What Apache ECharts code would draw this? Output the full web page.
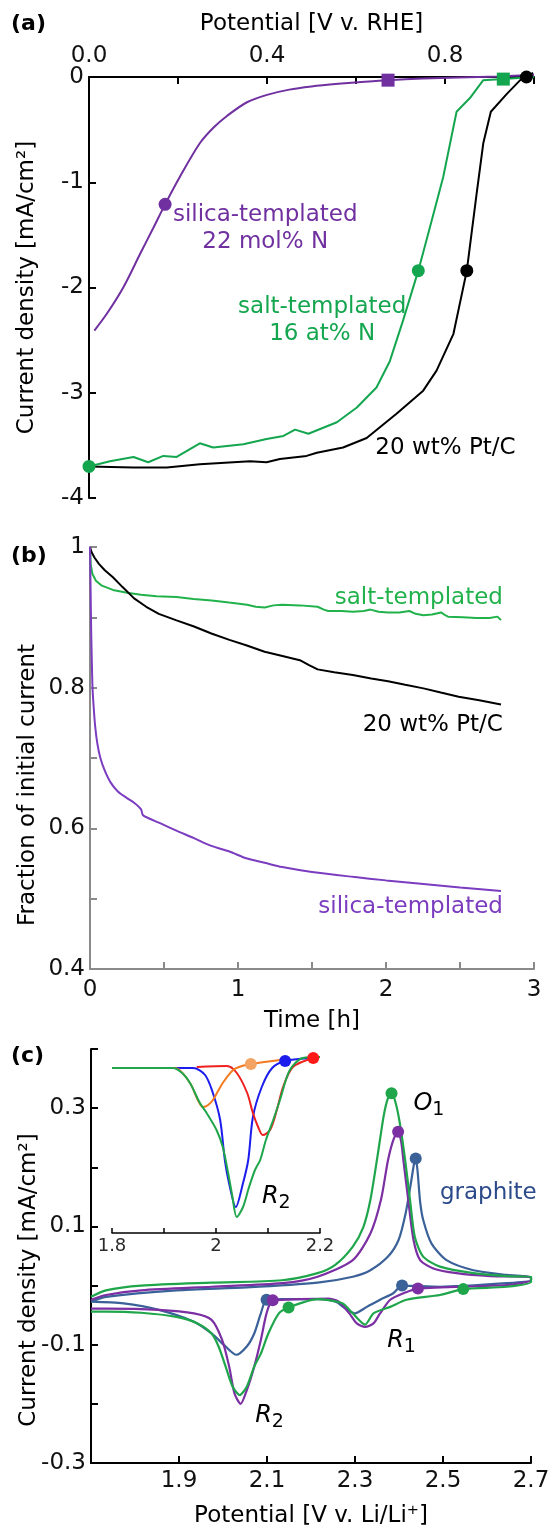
<!DOCTYPE html>
<html>
<head>
<meta charset="utf-8">
<title>ORR activity, stability and Li–S cyclic voltammetry</title>
<script src="https://cdn.jsdelivr.net/npm/echarts@6/dist/echarts.min.js"></script>
<style>
  html, body { margin: 0; padding: 0; background: #ffffff; }
  #chart { width: 554px; height: 1533px; }
</style>
</head>
<body>
<div id="chart"></div>
<script>
// ---------------- (a) linear sweeps: [E / V vs RHE, j / mA cm^-2] ----------------
const lsvSilica = [[0.012,-2.41],[0.04,-2.25],[0.077,-2.0],[0.115,-1.68],[0.145,-1.43],[0.171,-1.21],[0.204,-0.95],[0.249,-0.63],[0.28,-0.48],[0.31,-0.37],[0.355,-0.24],[0.4,-0.17],[0.45,-0.12],[0.5,-0.09],[0.56,-0.065],[0.62,-0.045],[0.672,-0.03],[0.75,-0.015],[0.83,-0.005],[0.92,0.005],[1.0,0.02]];
const lsvSalt = [[0,-3.7],[0.047,-3.65],[0.1,-3.61],[0.133,-3.66],[0.167,-3.6],[0.197,-3.61],[0.249,-3.48],[0.279,-3.52],[0.347,-3.49],[0.399,-3.44],[0.437,-3.41],[0.463,-3.35],[0.493,-3.39],[0.557,-3.28],[0.602,-3.14],[0.646,-2.95],[0.676,-2.7],[0.706,-2.31],[0.74,-1.84],[0.766,-1.43],[0.796,-0.95],[0.826,-0.33],[0.856,-0.2],[0.886,-0.03],[0.931,-0.02],[1.0,0.0]];
const lsvPtC = [[0,-3.7],[0.1,-3.71],[0.175,-3.71],[0.249,-3.68],[0.362,-3.65],[0.399,-3.66],[0.429,-3.63],[0.489,-3.6],[0.512,-3.57],[0.571,-3.52],[0.624,-3.43],[0.691,-3.2],[0.751,-2.98],[0.781,-2.79],[0.819,-2.44],[0.849,-1.84],[0.871,-1.11],[0.886,-0.63],[0.903,-0.33],[0.939,-0.16],[0.969,-0.03],[0.983,0.0],[0.998,0.04]];
// half-wave (circles) and onset (squares) points
const lsvSilicaHalf = [[0.171,-1.21]];
const lsvSilicaOnset = [[0.672,-0.03]];
const lsvSaltHalf = [[0,-3.7],[0.74,-1.84]];
const lsvSaltOnset = [[0.931,-0.02]];
const lsvPtCHalf = [[0.849,-1.84],[0.983,0.0]];

// ---------------- (b) chronoamperometry: [t / h, I / I0] ----------------
const chronoPtC = [[0,1.0],[0.01,0.993],[0.03,0.985],[0.06,0.976],[0.1,0.967],[0.155,0.957],[0.22,0.943],[0.298,0.927],[0.38,0.915],[0.465,0.905],[0.58,0.896],[0.703,0.887],[0.82,0.877],[0.942,0.868],[1.06,0.86],[1.18,0.851],[1.3,0.845],[1.418,0.839],[1.48,0.832],[1.538,0.826],[1.65,0.822],[1.776,0.818],[1.9,0.813],[2.014,0.809],[2.13,0.804],[2.253,0.799],[2.37,0.793],[2.491,0.787],[2.63,0.782],[2.777,0.776]];
const chronoSalt = [[0,1.0],[0.005,0.975],[0.016,0.962],[0.04,0.952],[0.08,0.945],[0.155,0.939],[0.25,0.935],[0.345,0.932],[0.45,0.93],[0.584,0.929],[0.7,0.926],[0.822,0.924],[0.94,0.921],[1.061,0.918],[1.12,0.915],[1.18,0.914],[1.24,0.917],[1.299,0.918],[1.42,0.917],[1.538,0.915],[1.58,0.911],[1.609,0.909],[1.7,0.909],[1.776,0.908],[1.85,0.909],[1.895,0.911],[1.95,0.908],[2.014,0.907],[2.09,0.907],[2.158,0.909],[2.2,0.905],[2.253,0.903],[2.31,0.904],[2.372,0.907],[2.4,0.903],[2.419,0.901],[2.52,0.9],[2.61,0.899],[2.7,0.899],[2.753,0.901],[2.777,0.896]];
const chronoSilica = [[0,1.0],[0.004,0.94],[0.008,0.88],[0.012,0.84],[0.017,0.8],[0.024,0.775],[0.035,0.745],[0.05,0.72],[0.07,0.7],[0.1,0.682],[0.14,0.665],[0.19,0.652],[0.25,0.643],[0.3,0.636],[0.345,0.627],[0.357,0.619],[0.4,0.614],[0.465,0.608],[0.58,0.597],[0.703,0.586],[0.82,0.575],[0.942,0.567],[1.061,0.557],[1.18,0.551],[1.299,0.545],[1.5,0.538],[1.776,0.531],[2.0,0.526],[2.253,0.521],[2.5,0.516],[2.777,0.511]];

// ---------------- (c) cyclic voltammograms: [E / V vs Li/Li+, j / mA cm^-2] ----------------
const cvSalt = [[1.7,-0.019],[1.734,-0.008],[1.814,0.0],[1.974,0.005],[2.134,0.009],[2.215,0.021],[2.255,0.035],[2.295,0.066],[2.319,0.099],[2.335,0.145],[2.351,0.218],[2.365,0.286],[2.374,0.315],[2.383,0.325],[2.392,0.31],[2.402,0.274],[2.414,0.212],[2.425,0.145],[2.436,0.082],[2.455,0.049],[2.493,0.032],[2.569,0.021],[2.645,0.016],[2.7,0.015],
  [2.7,0.006],[2.645,-0.002],[2.546,-0.006],[2.493,-0.016],[2.417,-0.024],[2.38,-0.036],[2.342,-0.047],[2.323,-0.066],[2.295,-0.047],[2.271,-0.03],[2.215,-0.023],[2.149,-0.037],[2.127,-0.047],[2.103,-0.081],[2.086,-0.115],[2.071,-0.137],[2.054,-0.171],[2.038,-0.185],[2.022,-0.171],[2.006,-0.137],[1.99,-0.103],[1.974,-0.081],[1.942,-0.064],[1.894,-0.053],[1.814,-0.046],[1.734,-0.044],[1.7,-0.044]];
const cvSilica = [[1.7,-0.024],[1.734,-0.016],[1.814,-0.008],[1.974,-0.002],[2.135,0.004],[2.215,0.015],[2.295,0.043],[2.335,0.088],[2.359,0.145],[2.375,0.212],[2.388,0.248],[2.398,0.26],[2.405,0.243],[2.41,0.212],[2.421,0.145],[2.433,0.077],[2.448,0.043],[2.478,0.029],[2.531,0.021],[2.607,0.016],[2.7,0.014],
  [2.7,0.009],[2.645,0.001],[2.443,-0.005],[2.41,-0.013],[2.38,-0.024],[2.357,-0.047],[2.342,-0.064],[2.323,-0.07],[2.304,-0.064],[2.287,-0.047],[2.263,-0.027],[2.239,-0.022],[2.175,-0.023],[2.113,-0.025],[2.099,-0.047],[2.086,-0.092],[2.071,-0.137],[2.054,-0.177],[2.04,-0.2],[2.026,-0.182],[2.014,-0.137],[1.998,-0.092],[1.974,-0.058],[1.934,-0.047],[1.854,-0.041],[1.734,-0.039],[1.7,-0.039]];
const cvGraphite = [[1.7,-0.027],[1.734,-0.019],[1.894,-0.008],[2.054,-0.003],[2.215,0.005],[2.295,0.015],[2.335,0.026],[2.375,0.049],[2.399,0.077],[2.415,0.122],[2.427,0.173],[2.434,0.205],[2.438,0.215],[2.442,0.195],[2.448,0.142],[2.455,0.111],[2.474,0.071],[2.508,0.043],[2.569,0.026],[2.645,0.018],[2.7,0.014],
  [2.7,0.009],[2.645,0.004],[2.493,-0.002],[2.407,0.0],[2.387,-0.013],[2.357,-0.024],[2.327,-0.036],[2.299,-0.047],[2.279,-0.039],[2.255,-0.027],[2.215,-0.023],[2.135,-0.023],[2.099,-0.024],[2.086,-0.047],[2.071,-0.081],[2.054,-0.103],[2.03,-0.117],[2.006,-0.103],[1.974,-0.081],[1.934,-0.061],[1.854,-0.041],[1.774,-0.03],[1.7,-0.027]];
const cvSaltDots = [[2.383,0.325],[2.149,-0.037],[2.546,-0.006]];
const cvSilicaDots = [[2.398,0.26],[2.113,-0.025],[2.443,-0.005]];
const cvGraphiteDots = [[2.438,0.215],[2.099,-0.024],[2.407,0.0]];

// inset: R2 reduction peak and its fitted components (normalised current)
const r2Measured = [[1.8,0],[1.917,0],[1.935,-0.05],[1.95,-0.15],[1.969,-0.35],[1.982,-0.45],[2.001,-0.62],[2.013,-0.79],[2.023,-1.04],[2.031,-1.27],[2.04,-1.49],[2.052,-1.39],[2.063,-1.2],[2.075,-1.02],[2.085,-0.92],[2.096,-0.72],[2.11,-0.52],[2.123,-0.32],[2.142,-0.02],[2.167,0.1],[2.2,0.11]];
const r2PeakA = [[1.8,0],[1.921,0],[1.95,-0.15],[1.965,-0.32],[1.975,-0.39],[1.985,-0.37],[1.994,-0.32],[2.013,-0.15],[2.033,-0.02],[2.05,0.02],[2.067,0.04],[2.123,0.08]];
const r2PeakB = [[1.8,0],[1.956,0],[1.979,-0.07],[1.994,-0.25],[2.008,-0.52],[2.017,-0.92],[2.025,-1.15],[2.038,-1.39],[2.052,-1.15],[2.062,-0.92],[2.071,-0.49],[2.088,-0.19],[2.108,0.0],[2.133,0.07],[2.187,0.1]];
const r2PeakC = [[1.963,0.01],[2.021,0.02],[2.04,-0.05],[2.06,-0.25],[2.071,-0.45],[2.081,-0.59],[2.09,-0.67],[2.104,-0.62],[2.117,-0.42],[2.129,-0.19],[2.148,0.01],[2.187,0.1]];
const r2PeakADot = [[2.067,0.04]];
const r2PeakBDot = [[2.133,0.07]];
const r2PeakCDot = [[2.187,0.1]];

// ---------------- tick labels ----------------
const rheTickVals = [0, 0.4, 0.8], rheTickText = ['0.0', '0.4', '0.8'];
const jTickVals = [0, -1, -2, -3, -4], jTickText = ['0', '-1', '-2', '-3', '-4'];
const timeTickVals = [0, 1, 2, 3], timeTickText = ['0', '1', '2', '3'];
const fracTickVals = [0.4, 0.6, 0.8, 1], fracTickText = ['0.4', '0.6', '0.8', '1'];
const liTickVals = [1.9, 2.1, 2.3, 2.5, 2.7], liTickText = ['1.9', '2.1', '2.3', '2.5', '2.7'];
const cvTickVals = [0.3, 0.1, -0.1, -0.3], cvTickText = ['0.3', '0.1', '-0.1', '-0.3'];
const insetTickVals = [1.8, 2.0, 2.2], insetTickText = ['1.8', '2', '2.2'];

// ---------------- styling ----------------
const FONT = 'DejaVu Sans';
const INK = '#000000';
const C = {
  purpleA: '#7030a0', greenA: '#14a64f',
  purpleB: '#7b3cc0', greenB: '#22b24c',
  purpleC: '#7b2fa3', greenC: '#1fa64b', blueC: '#3a6198', graphiteText: '#2b4a8a',
  insetGreen: '#1fa64b', insetBlue: '#1c1ced', insetOrange: '#f47a1f', insetRed: '#ee2020',
  dotOrange: '#f4a462', dotBlue: '#1c1ced', dotRed: '#ff1a1a', grayAxis: '#8a8a8a'
};

function tickText(vals, texts) {
  return v => {
    const i = vals.findIndex(t => Math.abs(t - v) < 1e-6);
    return i < 0 ? '' : texts[i];
  };
}

function valueAxis(o) {
  const color = o.color || INK;
  const w = o.lineWidth || 2;
  return {
    type: 'value', gridIndex: o.grid, position: o.position,
    min: o.min, max: o.max, interval: o.interval, show: o.show !== false,
    axisLine: { show: true, onZero: false, lineStyle: { color, width: w } },
    axisTick: { show: true, inside: true, length: o.tickLen || 7, lineStyle: { color, width: w } },
    axisLabel: {
      show: true, interval: 0, showMinLabel: true, showMaxLabel: true, hideOverlap: false,
      margin: o.margin, formatter: o.formatter, fontFamily: FONT,
      fontSize: o.fontSize || 23, color: o.labelColor || '#111111'
    },
    splitLine: { show: false }, minorTick: { show: false },
    name: o.name || '', nameLocation: 'middle', nameGap: o.nameGap, nameMoveOverlap: false,
    nameTextStyle: { fontFamily: FONT, fontSize: 23, color: INK, padding: o.namePadding || 0 }
  };
}

function curve(xi, data, color, width, smooth) {
  return {
    type: 'line', xAxisIndex: xi, yAxisIndex: xi, data, smooth: smooth || false,
    symbol: 'none', showSymbol: false, clip: false, silent: true, z: 3,
    lineStyle: { color, width }
  };
}

function dots(xi, data, color, symbol, size) {
  return {
    type: 'scatter', xAxisIndex: xi, yAxisIndex: xi, data, symbol: symbol || 'circle',
    symbolSize: size || 13, clip: false, silent: true, z: 5,
    itemStyle: { color, opacity: 1 }
  };
}

const subRich = {
  i: { fontFamily: FONT, fontStyle: 'italic', fontSize: 24, lineHeight: 28, color: INK },
  s: { fontFamily: FONT, fontSize: 19, lineHeight: 28, padding: [13, 0, 0, 0], color: INK }
};

function notes(xi, list) {
  return {
    type: 'scatter', xAxisIndex: xi, yAxisIndex: xi, symbolSize: 1, clip: false, silent: true, z: 6,
    itemStyle: { color: 'rgba(0,0,0,0)', opacity: 1 },
    data: list.map(n => ({
      value: n.at,
      label: {
        show: true, position: 'inside', formatter: n.text, color: n.color, opacity: 1,
        align: n.align || 'center', verticalAlign: 'middle',
        fontFamily: FONT, fontSize: 23, lineHeight: 27, rich: subRich
      }
    }))
  };
}

// annotation anchors, in each panel's data coordinates
const notesA = [
  { at: [0.396, -1.443], text: 'silica-templated\n22 mol% N', color: C.purpleA },
  { at: [0.524, -2.31], text: 'salt-templated\n16 at% N', color: C.greenA },
  { at: [0.801, -3.521], text: '20 wt% Pt/C', color: INK }
];
const notesB = [
  { at: [2.79, 0.9275], text: 'salt-templated', color: C.greenB, align: 'right' },
  { at: [2.79, 0.747], text: '20 wt% Pt/C', color: INK, align: 'right' },
  { at: [2.79, 0.488], text: 'silica-templated', color: C.purpleB, align: 'right' }
];
const notesC = [
  { at: [2.468, 0.307], text: '{i|O}{s|1}', color: INK },
  { at: [2.603, 0.157], text: 'graphite', color: C.graphiteText },
  { at: [2.4057, -0.0938], text: '{i|R}{s|1}', color: INK },
  { at: [2.1057, -0.2205], text: '{i|R}{s|2}', color: INK }
];
const notesInset = [
  { at: [2.116, -1.29], text: '{i|R}{s|2}', color: INK }
];

const chart = echarts.init(document.getElementById('chart'), null, { renderer: 'canvas', width: 554, height: 1533 });

const panelTitle = (text, left, top) => ({
  text, left, top, padding: 0,
  textStyle: { fontFamily: FONT, fontWeight: 'bold', fontSize: 22, color: INK }
});

chart.setOption({
  animation: false,
  backgroundColor: '#ffffff',
  title: [panelTitle('(a)', 11, 13), panelTitle('(b)', 11, 545), panelTitle('(c)', 11, 1045)],
  grid: [
    { left: 89, top: 77, width: 445, height: 421, containLabel: false, outerBoundsMode: 'none' },
    { left: 90, top: 547, width: 444, height: 422, containLabel: false, outerBoundsMode: 'none' },
    { left: 91, top: 1049, width: 440, height: 414, containLabel: false, outerBoundsMode: 'none' },
    { left: 112, top: 1050, width: 208, height: 183, containLabel: false, outerBoundsMode: 'none' }
  ],
  xAxis: [
    valueAxis({ grid: 0, position: 'top', min: 0, max: 1, interval: 0.2, margin: 9,
      formatter: tickText(rheTickVals, rheTickText), name: 'Potential [V v. RHE]', nameGap: 41 }),
    valueAxis({ grid: 1, position: 'bottom', min: 0, max: 3, interval: 0.5, margin: 10, color: C.grayAxis,
      formatter: tickText(timeTickVals, timeTickText), name: 'Time [h]', nameGap: 41 }),
    valueAxis({ grid: 2, position: 'bottom', min: 1.7, max: 2.7, interval: 0.2, margin: 7,
      formatter: tickText(liTickVals, liTickText), name: 'Potential [V v. Li/Li\u207A]', nameGap: 42 }),
    valueAxis({ grid: 3, position: 'bottom', min: 1.8, max: 2.2, interval: 0.1, margin: 4, lineWidth: 1.5,
      tickLen: 5, fontSize: 18, labelColor: '#2a2a2a', formatter: tickText(insetTickVals, insetTickText) })
  ],
  yAxis: [
    valueAxis({ grid: 0, position: 'left', min: -4, max: 0, interval: 1, margin: 5,
      formatter: tickText(jTickVals, jTickText), name: 'Current density [mA/cm\u00B2]', nameGap: 50 }),
    valueAxis({ grid: 1, position: 'left', min: 0.4, max: 1, interval: 0.1, margin: 5, color: C.grayAxis,
      formatter: tickText(fracTickVals, fracTickText), name: 'Fraction of initial current', nameGap: 50,
      namePadding: [0, 54, 0, 0] }),
    valueAxis({ grid: 2, position: 'left', min: -0.3, max: 0.4, interval: 0.1, margin: 5,
      formatter: tickText(cvTickVals, cvTickText), name: 'Current density [mA/cm\u00B2]', nameGap: 50,
      namePadding: [0, 48, 0, 0] }),
    valueAxis({ grid: 3, position: 'left', min: -1.65, max: 0.18, show: false })
  ],
  series: [
    // (a)
    curve(0, lsvPtC, INK, 2),
    curve(0, lsvSalt, C.greenA, 2),
    curve(0, lsvSilica, C.purpleA, 2, 0.3),
    dots(0, lsvSilicaHalf, C.purpleA),
    dots(0, lsvSilicaOnset, C.purpleA, 'rect', 13),
    dots(0, lsvSaltHalf, C.greenA),
    dots(0, lsvSaltOnset, C.greenA, 'rect', 13),
    dots(0, lsvPtCHalf, INK),
    notes(0, notesA),
    // (b)
    curve(1, chronoSalt, C.greenB, 2),
    curve(1, chronoPtC, INK, 2),
    curve(1, chronoSilica, C.purpleB, 2, 0.3),
    notes(1, notesB),
    // (c)
    curve(2, cvGraphite, C.blueC, 2.2, 0.25),
    curve(2, cvSilica, C.purpleC, 2.2, 0.25),
    curve(2, cvSalt, C.greenC, 2.2, 0.25),
    dots(2, cvGraphiteDots, C.blueC, 'circle', 12),
    dots(2, cvSilicaDots, C.purpleC, 'circle', 12),
    dots(2, cvSaltDots, C.greenC, 'circle', 12),
    notes(2, notesC),
    // inset
    curve(3, r2PeakB, C.insetBlue, 2, 0.3),
    curve(3, r2PeakC, C.insetRed, 2, 0.3),
    curve(3, r2PeakA, C.insetOrange, 2, 0.3),
    curve(3, r2Measured, C.insetGreen, 2, 0.3),
    dots(3, r2PeakADot, C.dotOrange, 'circle', 12),
    dots(3, r2PeakBDot, C.dotBlue, 'circle', 12),
    dots(3, r2PeakCDot, C.dotRed, 'circle', 12),
    notes(3, notesInset)
  ]
});
</script>
</body>
</html>
